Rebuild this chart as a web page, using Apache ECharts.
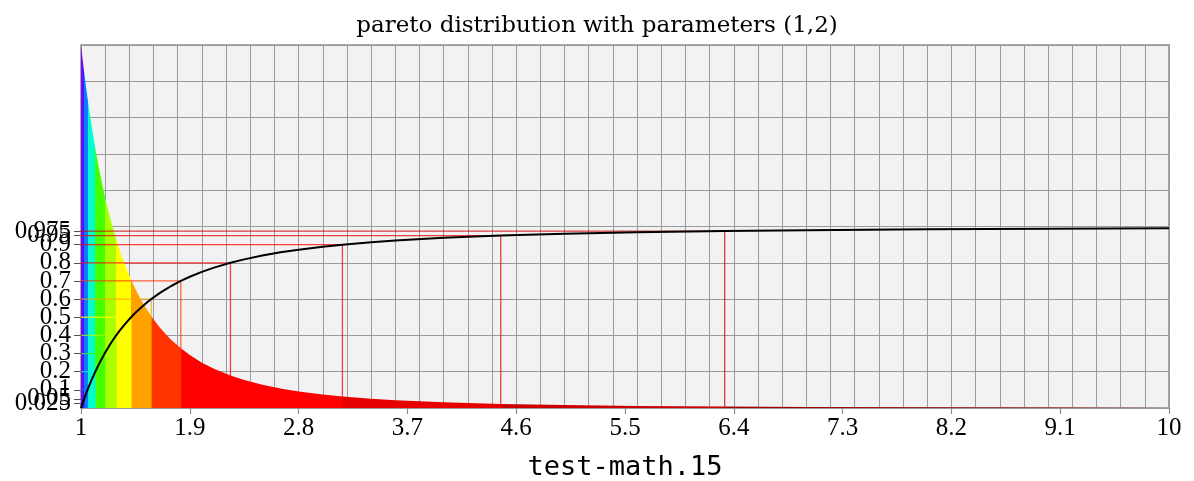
<!DOCTYPE html>
<html>
<head>
<meta charset="utf-8">
<script src="https://cdn.jsdelivr.net/npm/echarts@6/dist/echarts.min.js"></script>
<style>
  html, body { margin: 0; padding: 0; background: #ffffff; }
  #chart { width: 1194px; height: 481px; }
</style>
</head>
<body>
<div id="chart"></div>
<script>
// Sample points of the Pareto(1,2) density and distribution function
const xs  = [1, 1.0127, 1.026, 1.04, 1.0541, 1.08, 1.1, 1.118, 1.15, 1.1952, 1.24, 1.27, 1.291, 1.32, 1.35, 1.38, 1.4142, 1.45, 1.5, 1.55, 1.5811, 1.65, 1.7, 1.75, 1.8257, 1.9, 2.0, 2.1, 2.2361, 2.35, 2.5, 2.65, 2.8, 3.0, 3.1623, 3.4, 3.6, 4.0, 4.4721, 5.0, 5.6, 6.3246, 7.0, 8.0, 9.0, 10.0];
const pdf = [2.0, 1.9255, 1.8519, 1.7776, 1.7076, 1.5877, 1.5026, 1.4311, 1.315, 1.1713, 1.049, 0.9763, 0.9295, 0.8696, 0.8129, 0.7611, 0.7071, 0.656, 0.5926, 0.5371, 0.506, 0.4452, 0.4071, 0.3732, 0.3286, 0.2916, 0.25, 0.216, 0.1789, 0.1541, 0.128, 0.1075, 0.0911, 0.0741, 0.0632, 0.0509, 0.0429, 0.0313, 0.0224, 0.016, 0.0114, 0.0079, 0.0058, 0.0039, 0.0027, 0.002];
const cdf = [0, 0.025, 0.05, 0.0754, 0.1, 0.1427, 0.1736, 0.2, 0.2439, 0.3, 0.3496, 0.38, 0.4, 0.4261, 0.4513, 0.4749, 0.5, 0.5244, 0.5556, 0.5838, 0.6, 0.6327, 0.654, 0.6735, 0.7, 0.723, 0.75, 0.7732, 0.8, 0.8189, 0.84, 0.8576, 0.8724, 0.8889, 0.9, 0.9135, 0.9228, 0.9375, 0.95, 0.96, 0.9681, 0.975, 0.9796, 0.9844, 0.9877, 0.99];

// Probability levels and the matching quantiles
const levels    = [0.025, 0.05, 0.1, 0.2, 0.3, 0.4, 0.5, 0.6, 0.7, 0.8, 0.9, 0.95, 0.975];
const quantiles = [1.0127, 1.026, 1.0541, 1.118, 1.1952, 1.291, 1.4142, 1.5811, 1.8257, 2.2361, 3.1623, 4.4721, 6.3246];

// Tick labels of the x axis
const xTicks = [1, 1.9, 2.8, 3.7, 4.6, 5.5, 6.4, 7.3, 8.2, 9.1, 10];

// Fill colour of each band between consecutive quantiles (14 bands)
const bandColors = ['#7a00ff', '#2a20ff', '#0a7cff', '#00ffcc', '#44ff00', '#aaff00', '#ffff00',
                    '#ffa200', '#ff3300', '#ff0000', '#ff0000', '#e60000', '#cc0000', '#a00000'];

const X_MIN = 1, X_MAX = 10, Y_MAX = 2;

const pieces = [];
for (let i = 0; i < bandColors.length; i++) {
  const p = { color: bandColors[i] };
  if (i > 0) p.gte = quantiles[i - 1];
  if (i < quantiles.length) p.lt = quantiles[i];
  pieces.push(p);
}

const series = [];

// Density, filled under the curve and coloured by quantile band
series.push({
  name: 'density',
  type: 'line',
  xAxisIndex: 0, yAxisIndex: 0,
  data: xs.map((x, i) => [x, pdf[i]]),
  showSymbol: false,
  lineStyle: { width: 0 },
  areaStyle: { opacity: 1 },
  silent: true,
  z: 2
});

// Quantile guides: from the y axis to the curve, then down to the x axis
levels.forEach((p, i) => {
  series.push({
    type: 'line',
    xAxisIndex: 0, yAxisIndex: 0,
    data: [[X_MIN, p], [quantiles[i], p], [quantiles[i], 0]],
    showSymbol: false,
    lineStyle: { color: bandColors[i], width: 1.3, opacity: 0.75 },
    silent: true,
    z: 3
  });
});

// Distribution function
series.push({
  name: 'cdf',
  type: 'line',
  xAxisIndex: 0, yAxisIndex: 0,
  data: xs.map((x, i) => [x, cdf[i]]),
  showSymbol: false,
  lineStyle: { color: '#000000', width: 2, join: 'round' },
  silent: true,
  z: 4
});

const serif = 'Liberation Serif';

// Grid axis for the horizontal rules, then one labelled axis per level so
// that every level keeps its label even where they crowd together
const yAxes = [{
  type: 'value', min: 0, max: Y_MAX, interval: 0.2,
  axisLine: { show: false }, axisTick: { show: false }, axisLabel: { show: false },
  splitLine: { show: true, lineStyle: { color: '#9a9a9a', width: 1 } }
}];
levels.forEach((p) => {
  yAxes.push({
    type: 'value', min: 0, max: Y_MAX, position: 'left', offset: 0,
    axisLine: { show: false },
    axisTick: { show: true, customValues: [p], length: 7, lineStyle: { color: '#555', width: 1 } },
    axisLabel: { show: true, customValues: [p], margin: 10,
                 fontFamily: serif, fontSize: 25, color: '#000' },
    splitLine: { show: false }
  });
});

const option = {
  animation: false,
  backgroundColor: '#ffffff',
  title: {
    text: 'pareto distribution with parameters (1,2)',
    left: 'center',
    top: 10,
    textStyle: { fontFamily: 'DejaVu Serif', fontSize: 23, fontWeight: 'normal', color: '#000' }
  },
  grid: {
    left: 81, right: 25, top: 45, bottom: 73,
    outerBoundsMode: 'none', containLabel: false,
    show: true, backgroundColor: '#f2f2f2', borderColor: '#8c8c8c', borderWidth: 1.5
  },
  visualMap: {
    type: 'piecewise', show: false, dimension: 0, seriesIndex: 0, pieces: pieces
  },
  xAxis: [
    {
      type: 'value', min: X_MIN, max: X_MAX, interval: 0.2,
      axisLine: { show: false }, axisTick: { show: false }, axisLabel: { show: false },
      splitLine: { show: true, lineStyle: { color: '#9a9a9a', width: 1 } }
    },
    {
      type: 'value', min: X_MIN, max: X_MAX, position: 'bottom',
      axisLine: { show: false },
      axisTick: { show: true, customValues: xTicks, length: 6, lineStyle: { color: '#8c8c8c', width: 1.2 } },
      axisLabel: { show: true, customValues: xTicks, margin: 8,
                   fontFamily: serif, fontSize: 25, color: '#000' },
      splitLine: { show: false },
      name: 'test-math.15', nameLocation: 'middle', nameGap: 46,
      nameTextStyle: { fontFamily: 'DejaVu Sans Mono', fontSize: 27, color: '#000' }
    }
  ],
  yAxis: yAxes,
  series: series
};

const chart = echarts.init(document.getElementById('chart'), null, { renderer: 'canvas' });
chart.setOption(option);
</script>
</body>
</html>
